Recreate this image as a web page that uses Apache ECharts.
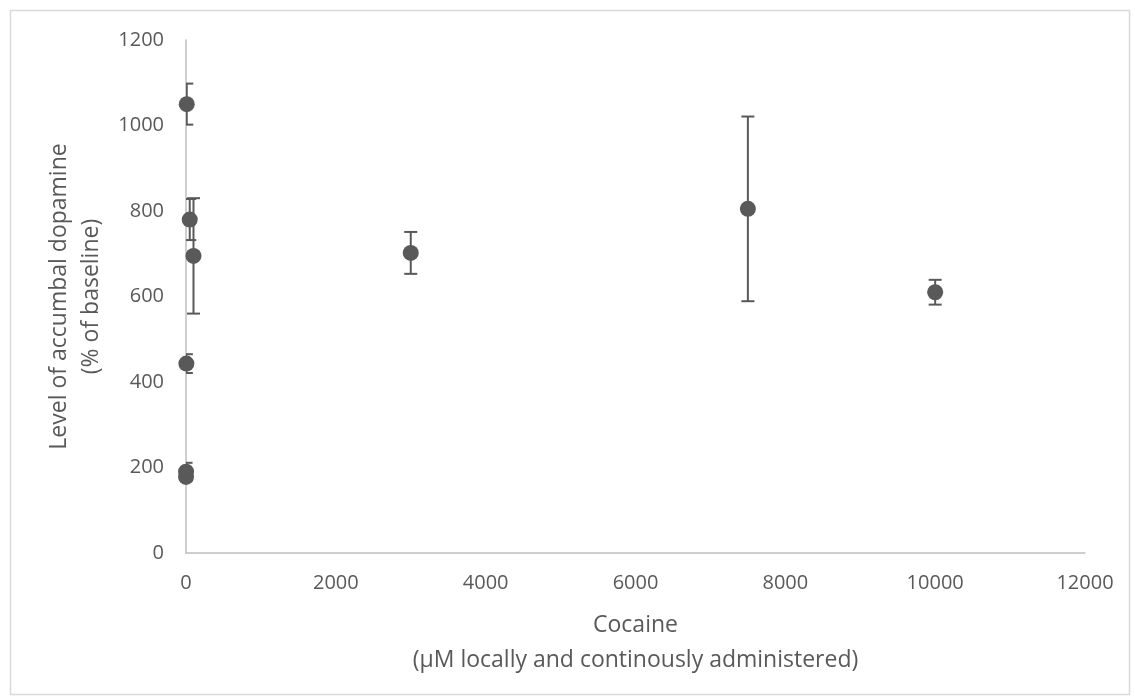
<!DOCTYPE html>
<html>
<head>
<meta charset="utf-8">
<script src="https://cdn.jsdelivr.net/npm/echarts@6/dist/echarts.min.js"></script>
<style>html,body{margin:0;padding:0;background:#fff}#chart{width:1135px;height:700px}</style>
</head>
<body>
<div id="chart"></div>
<script>
// Cocaine concentration (µM) and accumbal dopamine (% of baseline)
const cocaine  = [10,   5,   1,   0.5, 50,  100, 3000, 7500, 10000];
const dopamine = [1050, 443, 190, 178, 780, 695, 702,  805,  610];
const errorBar = [48,   22,  21,  8,   48,  135, 49,   216,  29];

const xTitle = 'Cocaine\n(µM locally and continously administered)';
const yTitle = 'Level of accumbal dopamine\n(% of baseline)';

const points = cocaine.map((x, i) => [x, dopamine[i]]);
const errData = cocaine.map((x, i) => [x, dopamine[i] - errorBar[i], dopamine[i] + errorBar[i]]);

const FONT = 'Open Sans';
const TXT = '#595959';

const chart = echarts.init(document.getElementById('chart'), null, {renderer: 'canvas'});
chart.setOption({
  animation: false,
  backgroundColor: '#fff',
  textStyle: {fontFamily: FONT, color: TXT},
  grid: {left: 186, right: 50, top: 40, bottom: 147, containLabel: false},
  graphic: [{
    type: 'rect', left: 8, top: 8, silent: true,
    shape: {width: 1119, height: 684},
    style: {fill: 'none', stroke: '#d9d9d9', lineWidth: 1.5}
  }],
  xAxis: {
    type: 'value', min: 0, max: 12000, interval: 2000,
    name: xTitle, nameLocation: 'middle', nameGap: 55,
    nameTextStyle: {fontFamily: FONT, fontSize: 23, color: TXT, lineHeight: 35},
    axisLine: {show: true, lineStyle: {color: '#bfbfbf', width: 1.5}},
    axisTick: {show: false},
    splitLine: {show: false},
    axisLabel: {fontFamily: FONT, fontSize: 20, color: TXT, margin: 20, formatter: v => String(v)}
  },
  yAxis: {
    type: 'value', min: 0, max: 1200, interval: 200,
    name: yTitle, nameLocation: 'middle', nameGap: 74, nameRotate: 90,
    nameTextStyle: {fontFamily: FONT, fontSize: 23, color: TXT, lineHeight: 32},
    axisLine: {show: true, lineStyle: {color: '#bfbfbf', width: 1.5}},
    axisTick: {show: false},
    splitLine: {show: false},
    axisLabel: {fontFamily: FONT, fontSize: 20, color: TXT, margin: 22, formatter: v => String(v)}
  },
  series: [{
    type: 'custom',
    clip: true,
    z: 3,
    data: errData,
    renderItem: function (params, api) {
      const x = api.value(0);
      const lo = api.coord([x, api.value(1)]);
      const hi = api.coord([x, api.value(2)]);
      const hw = 6.5;
      const st = {stroke: '#595959', lineWidth: 2};
      return {
        type: 'group',
        children: [
          {type: 'line', shape: {x1: lo[0], y1: lo[1], x2: hi[0], y2: hi[1]}, style: st},
          {type: 'line', shape: {x1: lo[0] - hw, y1: lo[1], x2: lo[0] + hw, y2: lo[1]}, style: st},
          {type: 'line', shape: {x1: hi[0] - hw, y1: hi[1], x2: hi[0] + hw, y2: hi[1]}, style: st}
        ]
      };
    }
  }, {
    type: 'scatter',
    z: 4,
    clip: false,
    symbol: 'circle',
    symbolSize: 16,
    itemStyle: {color: '#595959', opacity: 1},
    data: points
  }]
});
</script>
</body>
</html>
